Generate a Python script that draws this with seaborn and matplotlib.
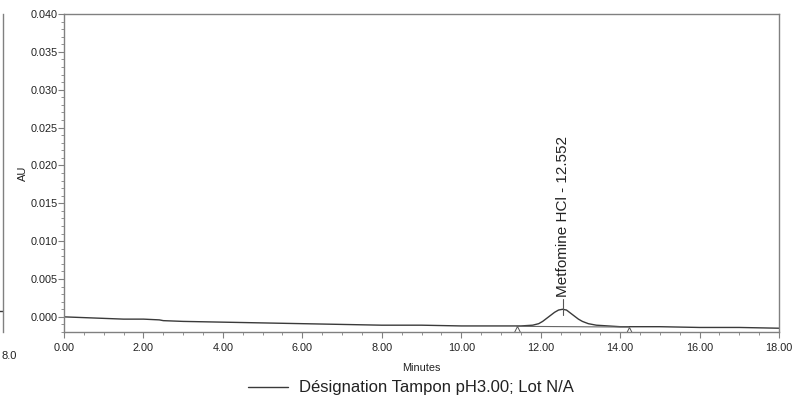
import matplotlib
matplotlib.use("Agg")
import matplotlib.pyplot as plt
import seaborn as sns
import pandas as pd
from matplotlib.ticker import MultipleLocator, FixedLocator

# ---- data ----
time_min = [0.0, 0.5, 1.0, 1.5, 2.0, 2.4, 2.5, 3.0, 4.0, 5.0, 6.0, 7.0, 8.0, 9.0,
            10.0, 11.0, 11.5, 11.8, 11.95, 12.05, 12.15, 12.25, 12.35, 12.45,
            12.552, 12.65, 12.75, 12.85, 12.95, 13.05, 13.2, 13.4, 13.7, 14.0,
            15.0, 16.0, 17.0, 18.0]
au = [0.0000, -0.0001, -0.0002, -0.0003, -0.0003, -0.0004, -0.0005, -0.0006,
      -0.0007, -0.0008, -0.0009, -0.0010, -0.0011, -0.0011, -0.0012, -0.0012,
      -0.0012, -0.0011, -0.0009, -0.0006, -0.0002, 0.0002, 0.0006, 0.0009,
      0.0010, 0.0009, 0.0005, 0.0001, -0.0003, -0.0006, -0.0009, -0.0011,
      -0.0012, -0.0013, -0.0013, -0.0014, -0.0014, -0.0015]
peak_name = "Metfomine HCl"
peak_rt = 12.552
peak_apex_au = 0.0010
peak_bounds_t = [11.40, 14.22]
peak_bounds_au = [-0.00125, -0.00135]
series_label = "Désignation Tampon pH3.00; Lot N/A"
x_ticks = [0, 2, 4, 6, 8, 10, 12, 14, 16, 18]
y_ticks = [0.000, 0.005, 0.010, 0.015, 0.020, 0.025, 0.030, 0.035, 0.040]
left_panel_t = [17.5, 18.0]
left_panel_au = [0.0008, 0.0008]

sns.set_theme(style="white")
plt.rcParams['font.family'] = ['Liberation Sans', 'DejaVu Sans']

W, H = 797, 399
fig = plt.figure(figsize=(W / 100, H / 100), dpi=100)

def px_axes(x0, y0, x1, y1):
    return fig.add_axes([x0 / W, 1 - y1 / H, (x1 - x0) / W, (y1 - y0) / H])

spine_col = "#808080"
line_col = "#3a3a3a"
text_col = "#222222"

# remnant of neighbouring panel at left edge
ax0 = px_axes(-200, 14, 3, 332)
ax0.set_xlim(0, 18)
ax0.set_ylim(-0.002, 0.040)
for s in ["top", "left", "bottom"]:
    ax0.spines[s].set_visible(False)
ax0.spines["right"].set_color(spine_col)
ax0.spines["right"].set_linewidth(1.0)
ax0.set_xticks([])
ax0.set_yticks([])
sns.lineplot(x=left_panel_t, y=left_panel_au, ax=ax0, color=line_col, lw=1.0)
fig.text(1 / W, 1 - 356 / H, "8.0", ha="left", va="center", fontsize=8, color=text_col)

ax = px_axes(64, 14, 779, 332)
df = pd.DataFrame({"Minutes": time_min, "AU": au})
sns.lineplot(data=df, x="Minutes", y="AU", ax=ax, color=line_col, lw=1.0,
             label=series_label, legend=False)
# integration baseline and markers
sns.lineplot(x=peak_bounds_t, y=peak_bounds_au, ax=ax, color="#666666", lw=0.8)
ax.plot(peak_bounds_t, [v - 0.00035 for v in peak_bounds_au], ls="none",
        marker="^", ms=4, mfc="white", mec="#555555", mew=0.7)

# peak annotation
ax.plot([peak_rt, peak_rt], [peak_apex_au - 0.0007, peak_apex_au + 0.0014],
        color="#555555", lw=0.8)
ax.text(peak_rt, peak_apex_au + 0.0016, f"{peak_name} - {peak_rt:.3f}",
        rotation=90, ha="center", va="bottom", fontsize=11, color=text_col)

ax.set_xlim(0, 18)
ax.set_ylim(-0.002, 0.040)
ax.xaxis.set_major_locator(FixedLocator(x_ticks))
ax.xaxis.set_minor_locator(MultipleLocator(0.5))
ax.yaxis.set_major_locator(FixedLocator(y_ticks))
ax.yaxis.set_minor_locator(MultipleLocator(0.001))
ax.set_xticklabels([f"{v:.2f}" for v in x_ticks])
ax.set_yticklabels([f"{v:.3f}" for v in y_ticks])
ax.tick_params(axis="both", which="major", direction="out", length=4, width=0.8,
               color=spine_col, labelsize=7.8, labelcolor=text_col, pad=1.5,
               bottom=True, left=True)
ax.tick_params(axis="both", which="minor", direction="out", length=2.2, width=0.6,
               color=spine_col, bottom=True, left=True)
ax.tick_params(axis="y", which="major", pad=0.5)
ax.tick_params(axis="x", which="major", pad=4)
for s in ax.spines.values():
    s.set_visible(True)
    s.set_color(spine_col)
    s.set_linewidth(1.0)
ax.set_xlabel("Minutes", fontsize=7.8, color=text_col, labelpad=7)
ax.set_ylabel("AU", fontsize=8, color=text_col, labelpad=2)

# legend
leg = ax.legend(loc="upper center", bbox_to_anchor=(0.485, -0.105), frameon=False,
                fontsize=12, handlelength=2.4, handletextpad=0.7, labelcolor=text_col)

fig.savefig("out.png", dpi=100)
